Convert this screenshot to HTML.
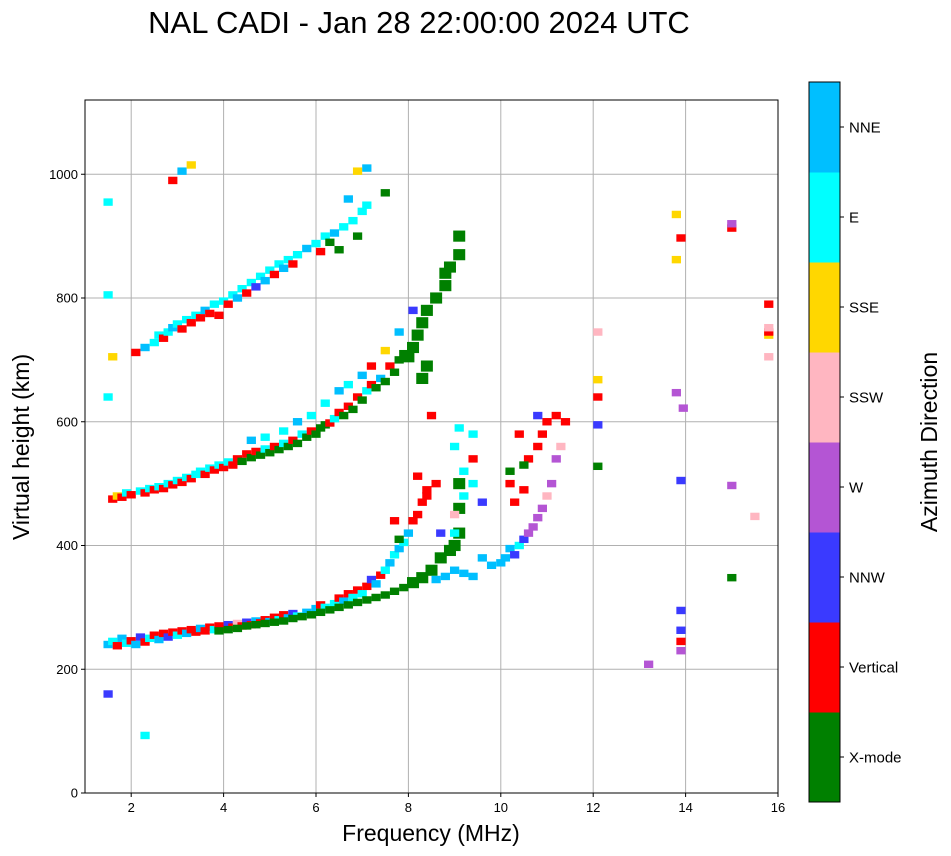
<!DOCTYPE html>
<html><head><meta charset="utf-8"><style>
html,body{margin:0;padding:0;background:#fff;}
svg{display:block;font-family:"Liberation Sans","DejaVu Sans",sans-serif;}
</style></head><body>
<svg id="chart" width="951" height="856" viewBox="0 0 951 856">
<text x="419" y="33" font-size="31" text-anchor="middle">NAL CADI - Jan 28 22:00:00 2024 UTC</text>
<g id="grid"></g>
<g id="marks"></g>
<rect x="85" y="100" width="693" height="693" fill="none" stroke="#000" stroke-width="1"/>
<g id="axes"></g>
<text x="431" y="841" font-size="23" text-anchor="middle">Frequency (MHz)</text>
<text transform="translate(29,447) rotate(-90)" font-size="23" text-anchor="middle">Virtual height (km)</text>
<g id="cbar"></g>
<text transform="translate(937,442) rotate(-90)" font-size="23" text-anchor="middle">Azimuth Direction</text>
</svg>
<script>
const dirLabels=["X-mode","Vertical","NNW","W","SSW","SSE","E","NNE"];
const dirColors=["#008000","#ff0000","#3a3aff","#b455d4","#ffb6c1","#ffd700","#00ffff","#00bfff"];
const xTicks=[2,4,6,8,10,12,14,16];
const yTicks=[0,200,400,600,800,1000];
const freq=[1.5,1.6,1.7,1.8,1.9,2.0,2.1,2.2,2.3,2.4,2.5,2.6,2.7,2.8,2.9,3.0,3.1,3.2,3.3,3.4,3.5,3.6,3.7,3.8,3.9,4.0,4.1,4.2,4.3,4.4,4.5,4.6,4.7,4.8,4.9,5.0,5.1,5.2,5.3,5.4,5.5,5.6,5.8,6.0,6.1,6.2,6.4,6.5,6.6,6.7,6.8,6.9,7.0,7.1,7.2,7.3,7.4,7.5,7.6,7.7,7.8,7.9,8.0,8.1,8.2,8.3,8.4,
3.9,4.1,4.3,4.5,4.7,4.9,5.1,5.3,5.5,5.7,5.9,6.1,6.3,6.5,6.7,6.9,7.1,7.3,7.5,7.7,7.9,8.1,8.3,8.5,8.7,8.9,9.0,9.1,9.1,9.1,
8.6,8.8,9.0,9.2,9.4,9.0,9.0,9.2,9.2,9.0,9.1,9.4,9.4,9.4,9.6,9.6,9.8,10.0,10.1,10.2,10.3,10.4,10.5,10.6,10.7,10.8,10.9,11.0,11.1,11.2,11.3,10.2,10.3,10.5,10.6,10.8,10.9,11.0,11.2,11.4,10.4,10.8,10.2,10.5,8.2,8.4,8.6,8.5,8.7,7.7,7.8,
1.6,1.7,1.8,1.9,2.0,2.2,2.3,2.4,2.5,2.6,2.7,2.8,2.9,3.0,3.1,3.2,3.3,3.4,3.5,3.6,3.7,3.8,3.9,4.0,4.1,4.2,4.3,4.4,4.5,4.6,4.7,4.8,4.9,5.0,5.1,5.2,5.3,5.4,5.5,5.6,5.7,5.8,5.9,6.0,6.1,6.2,6.3,6.4,6.5,6.6,6.7,6.8,6.9,7.0,7.1,7.2,7.3,7.4,7.5,7.6,7.7,7.8,7.9,8.0,8.1,8.2,8.3,8.4,8.6,8.8,8.9,9.1,9.1,8.8,8.4,8.3,
4.6,4.9,5.3,5.6,5.9,6.2,6.5,6.7,7.0,7.2,7.5,7.8,8.1,
1.6,2.1,2.3,2.5,2.6,2.7,2.8,2.9,3.0,3.1,3.2,3.3,3.4,3.5,3.6,3.7,3.8,3.9,4.0,4.1,4.2,4.3,4.4,4.5,4.6,4.7,4.8,4.9,5.0,5.1,5.2,5.3,5.4,5.5,5.6,5.8,6.0,6.1,6.2,6.3,6.4,6.5,6.6,6.8,6.9,7.0,7.1,6.7,7.5,2.9,3.1,3.3,6.9,7.1,
13.8,13.8,13.9,15.0,15.0,15.8,15.8,15.8,15.8,15.8,13.8,13.95,12.1,12.1,12.1,12.1,12.1,13.9,15.0,15.5,15.0,13.9,13.9,13.9,13.9,13.2,2.3,1.5,1.5,1.5,1.5];
const height=[240,245,238,250,242,246,240,252,244,250,255,248,258,252,260,255,262,258,264,260,266,262,268,264,270,266,272,268,274,270,276,272,278,275,280,277,284,280,288,283,290,286,292,298,304,300,306,315,310,322,316,328,322,334,345,338,352,360,372,385,395,405,420,440,450,470,490,
262,264,266,270,272,274,276,278,282,285,288,292,296,300,304,308,312,316,320,326,332,340,348,360,380,392,400,420,460,500,
345,350,360,355,350,420,450,480,520,560,590,580,540,500,470,380,368,372,380,395,385,400,410,420,430,445,460,480,500,540,560,500,470,490,540,560,580,600,610,600,580,610,520,530,512,480,500,610,420,440,410,
475,480,478,485,482,488,485,492,490,495,492,500,498,505,502,510,508,515,520,515,525,522,530,526,535,530,540,536,548,542,552,546,556,550,560,555,565,560,570,565,580,575,585,580,590,595,598,605,615,610,625,620,640,635,650,660,655,670,665,690,680,700,710,705,720,740,760,780,800,820,850,870,900,840,690,670,
570,575,585,600,610,630,650,660,675,690,715,745,780,
705,712,720,728,740,735,745,752,758,750,765,760,772,768,780,775,790,772,795,790,805,800,815,808,825,818,835,828,845,838,855,848,862,855,870,880,888,875,900,890,905,878,915,925,900,940,950,960,970,990,1005,1015,1005,1010,
935,862,897,913,920,790,740,745,705,752,647,622,745,668,640,595,528,505,497,447,348,295,263,245,230,208,93,160,955,805,640];
const dir=[7,6,1,7,6,1,7,2,1,6,1,7,1,2,1,6,1,7,1,1,7,1,1,6,1,1,2,1,4,1,2,1,7,1,1,7,1,6,1,7,2,6,7,7,1,6,6,1,7,1,6,1,6,1,2,7,1,6,7,6,7,6,7,1,1,1,1,
0,0,0,0,0,0,0,0,0,0,0,0,0,0,0,0,0,0,0,0,0,0,0,0,0,0,0,0,0,0,
7,7,7,7,7,6,4,6,6,6,6,6,1,6,2,7,7,7,7,7,2,6,2,3,3,3,3,4,3,3,4,1,1,1,1,1,1,1,1,1,1,2,0,0,1,1,1,1,2,1,0,
1,5,1,6,1,6,1,6,1,6,1,6,1,6,1,6,1,6,6,1,6,1,6,1,6,1,1,0,1,0,1,0,6,0,1,0,6,0,1,0,6,0,1,0,0,0,1,6,1,0,1,0,1,0,6,1,0,7,0,1,0,0,0,0,0,0,0,0,0,0,0,0,0,0,0,0,
7,6,6,7,6,6,7,6,7,1,5,7,2,
5,1,7,6,6,1,6,7,6,1,6,1,6,1,7,1,6,1,6,1,6,7,6,1,6,2,6,7,6,1,6,7,6,1,6,7,6,1,6,0,7,0,6,6,0,6,6,7,0,1,7,5,5,7,
5,5,1,1,3,1,5,1,4,4,3,3,4,5,1,2,0,2,3,4,0,2,2,1,3,3,6,2,6,6,6];
const NS="http://www.w3.org/2000/svg";
const X0=85,X1=778,Y0=793,Y1=100,FMIN=1,FMAX=16,HMIN=0,HMAX=1120;
function xs(f){return X0+(f-FMIN)/(FMAX-FMIN)*(X1-X0);}
function ys(h){return Y0-(h-HMIN)/(HMAX-HMIN)*(Y0-Y1);}
function mk(tag,attrs,parent){const e=document.createElementNS(NS,tag);for(const k in attrs)e.setAttribute(k,attrs[k]);parent.appendChild(e);return e;}
const grid=document.getElementById('grid'),axes=document.getElementById('axes'),marks=document.getElementById('marks'),cbar=document.getElementById('cbar');
xTicks.forEach(t=>{const x=xs(t);
 const g=mk('line',{x1:x,x2:x,y1:Y1,y2:Y0,stroke:'#b0b0b0','stroke-width':1},grid);
 
 
 mk('line',{x1:x,x2:x,y1:Y0,y2:Y0+4,stroke:'#000'},axes);
 const tx=mk('text',{x:x,y:Y0+19,'font-size':13,'text-anchor':'middle'},axes);tx.textContent=t;
 
 
});
yTicks.forEach(t=>{const y=ys(t);
 const g=mk('line',{x1:X0,x2:X1,y1:y,y2:y,stroke:'#b0b0b0','stroke-width':1},grid);
 
 
 mk('line',{x1:X0-4,x2:X0,y1:y,y2:y,stroke:'#000'},axes);
 const tx=mk('text',{x:X0-7,y:y+4.5,'font-size':13,'text-anchor':'end'},axes);tx.textContent=t;
 
 
});
const W=0.2,H=12;
for(let i=0;i<freq.length;i++){
 const big=dir[i]===0&&freq[i]>=8&&freq[i]<=9.3;
 const w=(big?0.26:W)*(X1-X0)/(FMAX-FMIN), h=(big?18:H)*(Y0-Y1)/(HMAX-HMIN);
 const r=mk('rect',{x:xs(freq[i])-w/2,y:ys(height[i])-h/2,width:w,height:h,fill:dirColors[dir[i]]},marks);
 
 
}
const CX=809,CW=31,CT=82,CB=802,seg=(CB-CT)/dirLabels.length;
dirLabels.forEach((lab,i)=>{const y=CB-(i+1)*seg;
 const r=mk('rect',{x:CX,y:y,width:CW,height:seg+0.5,fill:dirColors[i]},cbar);
 
 
 mk('line',{x1:CX+CW,x2:CX+CW+4,y1:y+seg/2,y2:y+seg/2,stroke:'#000'},cbar);
 const tx=mk('text',{x:CX+CW+9,y:y+seg/2+5.5,'font-size':15},cbar);tx.textContent=lab;
 
 
});
const fr=mk('rect',{x:CX,y:CT,width:CW,height:CB-CT,fill:'none',stroke:'#000'},cbar);


</script>
</body></html>
